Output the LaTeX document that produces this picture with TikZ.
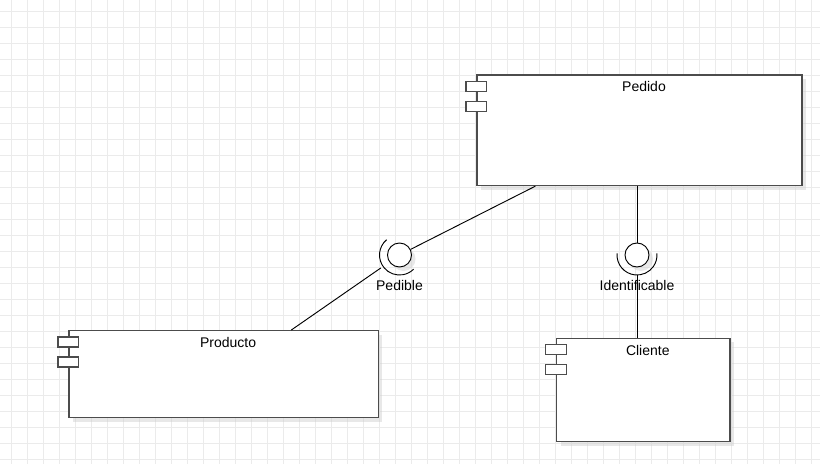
\documentclass[tikz,border=0pt]{standalone}
\usepackage{fontspec}
\setmainfont{Liberation Sans}
\usetikzlibrary{shadows,calc}
\newcommand{\pxu}{0.75pt}
\tikzset{
  comp/.style={draw=black!70, line width=1pt, fill=white, inner sep=0pt,
    drop shadow={shadow xshift=3pt, shadow yshift=-3pt, fill=black!18, opacity=.5}},
  port/.style={draw=black!70, line width=1pt, fill=white, inner sep=0pt,
    minimum width=20.5*\pxu, minimum height=10*\pxu},
  ball/.style={circle, draw, line width=0.7pt, fill=white, inner sep=0pt,
    minimum size=24*\pxu,
    drop shadow={shadow xshift=3pt, shadow yshift=-3pt, fill=black!18, opacity=.5}},
  socket/.style={draw, line width=0.7pt},
  wire/.style={draw, line width=0.7pt},
  lbl/.style={font=\fontsize{10.5}{12}\selectfont, inner sep=0pt, anchor=base},
}
\begin{document}
\begin{tikzpicture}[x=\pxu, y=-\pxu]
  \useasboundingbox (0,0) rectangle (820,464);
  % background grid
  \foreach \gx in {11,27,...,811}
    \draw[black!8, line width=0.75pt] (\gx,0) -- (\gx,464);
  \foreach \gy in {11,27,...,459}
    \draw[black!8, line width=0.75pt] (0,\gy) -- (820,\gy);

  % components
  \node[comp, minimum width=325*\pxu, minimum height=110.5*\pxu] (pedido) at (639.5,130.25) {};
  \node[comp, minimum width=309.3*\pxu, minimum height=87*\pxu] (producto) at (223.6,374.2) {};
  \node[comp, minimum width=173.3*\pxu, minimum height=103.4*\pxu] (cliente) at (643.3,390) {};
  \foreach \c in {pedido,producto,cliente} {
    \node[port] (\c-p1) at ([yshift=-12*\pxu]\c.north west) {};
    \node[port] (\c-p2) at ([yshift=-32*\pxu]\c.north west) {};
  }
  \node[lbl] (pedidoLbl) at ([xshift=4.5*\pxu, yshift=-17.5*\pxu]pedido.north) {Pedido};
  \node[lbl] (productoLbl) at ([xshift=4.5*\pxu, yshift=-17.5*\pxu]producto.north) {Producto};
  \node[lbl] (clienteLbl) at ([xshift=4.5*\pxu, yshift=-17.5*\pxu]cliente.north) {Cliente};

  % interfaces
  \node[ball] (pedible) at (399.5,255) {};
  \node[ball] (ident) at (637,255) {};
  \draw[socket] (pedible.center) ++(130:15pt) arc[start angle=130, end angle=315, radius=15pt];
  \draw[socket] (ident.center) ++(175:15pt) arc[start angle=175, end angle=365, radius=15pt];
  \node[lbl] (pedibleLbl) at (pedible.center |- 0,290.7) {Pedible};
  \node[lbl] (identLbl) at (ident.center |- 0,290.7) {Identificable};

  % connectors
  \coordinate (pedA) at ([xshift=59*\pxu]pedido.south west);
  \coordinate (prodA) at ([xshift=223*\pxu]producto.north west);
  \draw[wire] (pedA) -- (pedible);
  \draw[wire, shorten >=17pt] (prodA) -- (pedible.center);
  \draw[wire] (pedido.south -| ident.center) -- (ident);
  \draw[wire, shorten >=15pt] (cliente.north -| ident.center) -- (ident.center);
\end{tikzpicture}
\end{document}
